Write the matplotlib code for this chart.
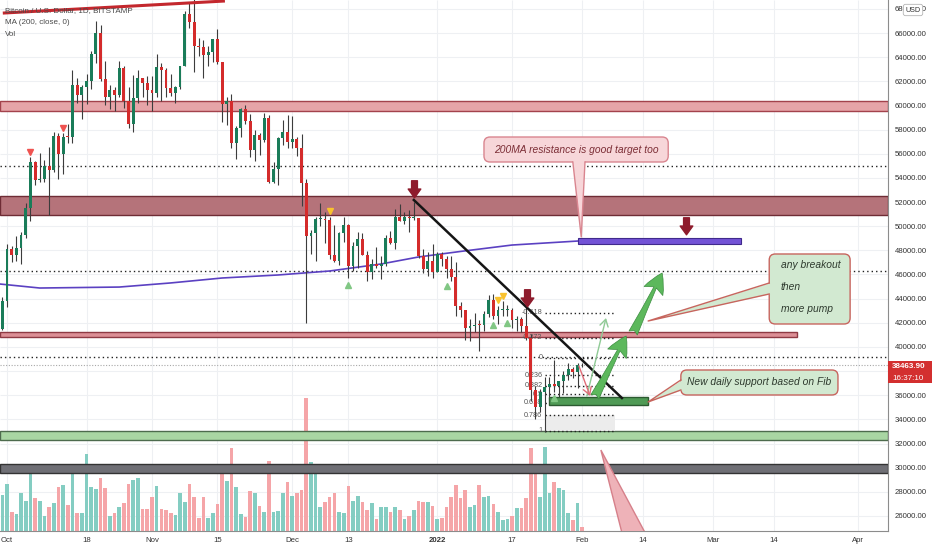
import numpy as np
import pandas as pd
import matplotlib
matplotlib.use('Agg')
import matplotlib.pyplot as plt
from matplotlib.patches import Rectangle, FancyBboxPatch, Polygon
from matplotlib.path import Path
from matplotlib.ticker import FuncFormatter

plt.rcParams['font.family'] = ['Liberation Sans', 'DejaVu Sans']

# BTC / USD daily candles (Bitstamp), 30 Sep 2021 - 1 Feb 2022
dates = pd.date_range('2021-09-30', '2022-02-01', freq='D')
opens = [41520,
         43790, 48140, 47650, 48230, 49250, 51500, 55340, 53800, 53950, 54960, 54690, 57480, 56010, 57370, 57360, 61670,
         60880, 61530, 62010, 64280, 66000, 62200, 60700, 61300, 60860, 63080, 60330, 58450, 60600, 62250, 61860,
         61300, 61000, 63200, 62950, 61450, 61000, 61500, 63300, 67550, 66950, 64900, 64800, 64150, 64400, 65500,
         63600, 60100, 60350, 56900, 58100, 59700, 58700, 56300, 57550, 57150, 58960, 53700, 54750, 57300, 57800,
         56950, 57200, 56500, 53600, 49200, 49400, 50600, 50600, 50500, 47650, 47150, 49400, 50100, 46700, 48350,
         48900, 47650, 46200, 46850, 46700, 46900, 49000, 48600, 50800, 50400, 50800, 50700, 50700, 47550, 46450, 47100,
         46200, 47700, 47300, 46450, 45800, 43400, 43100, 41550, 41700, 41850, 41800, 42700, 43900, 42550, 43100,
         43100, 43100, 42200, 42350, 41700, 40700, 36450, 35050, 36250, 36650, 36950, 36800, 37150, 37700, 38150, 37900,
         38480]
highs = [44100,
         48500, 48350, 49200, 49500, 51900, 55750, 55400, 56100, 55500, 56600, 57800, 57680, 57700, 58500, 62900, 62300,
         61700, 62600, 64500, 67000, 66700, 63700, 61700, 61500, 63700, 63300, 61500, 62500, 62950, 62300, 62400,
         62400, 64300, 63500, 63100, 62600, 61600, 63300, 67800, 68500, 69000, 65600, 65400, 64900, 65500, 66300,
         63600, 60700, 60950, 58300, 59800, 60000, 59300, 58000, 57750, 59400, 59200, 55300, 57400, 58800, 59200,
         59100, 57400, 57600, 53900, 49700, 50800, 51900, 51200, 50800, 50100, 49500, 50800, 50200, 48700, 49500,
         49400, 47950, 47300, 48300, 47500, 49300, 49600, 51400, 51800, 51200, 51300, 52000, 50700, 48100, 47900, 48500,
         47900, 47900, 47500, 47500, 47000, 43700, 43100, 42300, 42800, 42200, 43000, 44300, 44400, 43400, 43800,
         43500, 43200, 42600, 42500, 43500, 41100, 36800, 36500, 37500, 37500, 38900, 37200, 38000, 38700, 38300, 38700,
         38700]
lows = [41400,
        43300, 47000, 47100, 46900, 49050, 50400, 53400, 53700, 53700, 50900, 54450, 53900, 54300, 56900, 56900, 60200,
        58900, 60100, 61400, 63500, 62000, 60000, 59700, 59500, 60700, 59800, 58100, 57800, 60200, 60700, 60000,
        59500, 60700, 60400, 60700, 60800, 60200, 61400, 63300, 66400, 62800, 64100, 62300, 63300, 63600, 63400,
        58600, 58400, 56500, 55600, 57400, 58500, 55700, 55400, 55900, 57000, 53600, 53600, 53400, 56700, 56500,
        56500, 55800, 51700, 42000, 47700, 47100, 50000, 48600, 47300, 47000, 46800, 48700, 45700, 46300, 46500,
        47600, 45500, 45600, 46500, 45600, 46700, 48500, 48100, 50400, 50200, 49500, 50500, 47400, 46100, 45900, 45700,
        46200, 46700, 45700, 45500, 42600, 42500, 40600, 40500, 41200, 39700, 41300, 42500, 42300, 41900, 42600,
        42600, 41600, 41300, 41200, 40600, 35500, 34000, 34600, 32950, 35700, 36300, 35500, 36200, 37300, 37400, 36600,
        38300]
closes = [43790,
          48140, 47650, 48230, 49250, 51500, 55340, 53800, 53950, 54960, 54690, 57480, 56010, 57370, 57360, 61670, 60880,
          61530, 62010, 64280, 66000, 62200, 60700, 61300, 60860, 63080, 60330, 58450, 60600, 62250, 61860, 61300,
          61000, 63200, 62950, 61450, 61000, 61500, 63300, 67550, 66950, 64900, 64800, 64150, 64400, 65500, 63600,
          60100, 60350, 56900, 58100, 59700, 58700, 56300, 57550, 57150, 58960, 53700, 54750, 57300, 57800, 56950,
          57200, 56500, 53600, 49200, 49400, 50600, 50600, 50500, 47650, 47150, 49400, 50100, 46700, 48350, 48900,
          47650, 46200, 46850, 46700, 46900, 49000, 48600, 50800, 50400, 50800, 50700, 50700, 47550, 46450, 47100, 46200,
          47700, 47300, 46450, 45800, 43400, 43100, 41550, 41700, 41850, 41800, 42700, 43900, 42550, 43100, 43100,
          43100, 42200, 42350, 41700, 40700, 36450, 35050, 36250, 36650, 36950, 36800, 37150, 37700, 38150, 37900, 38480,
          38463.90]
volumes = [3600, 4700, 1900, 1700, 3800, 3000, 5900, 3300, 3000, 1500,
           2400, 2800, 4400, 4600, 2600, 5700, 1800, 1800, 7700, 4400,
           4200, 5300, 4300, 1500, 1800, 2400, 2800, 4700, 5100, 5300,
           2200, 2200, 3400, 4500, 2200, 2100, 1800, 1600, 3800, 2900,
           4700, 3400, 1300, 3400, 1300, 1800, 2700, 6300, 5000, 8300,
           4400, 1700, 1400, 4000, 3800, 2500, 1900, 7000, 1900, 2000,
           3800, 4900, 3500, 3800, 4100, 13300, 6900, 6200, 2400, 2900,
           3400, 3800, 1900, 1800, 4500, 3000, 3500, 2900, 2100, 2800,
           1200, 2400, 2400, 1900, 2400, 2100, 1200, 1500, 2100, 3000,
           2900, 2900, 2500, 1200, 1300, 2400, 3400, 4600, 3300, 4100,
           2400, 2600, 4600, 3400, 3500, 2700, 1900, 1100, 1200, 1500,
           2300, 2300, 3300, 8300, 6100, 3400, 8400, 3800, 4900, 4300,
           4100, 1800, 1100, 2800, 430]

# MA(200) sampled along the purple curve
ma_dates = ['2021-09-29', '2021-10-08', '2021-10-25', '2021-11-05', '2021-11-16', '2021-11-28',
            '2021-12-09', '2021-12-20', '2021-12-28', '2022-01-06', '2022-01-17', '2022-01-31']
ma_values = [45230, 44880, 44960, 45300, 45710, 45960, 46290, 46870, 47450, 47910, 48440, 48770]

tick_dates = ['2021-10-01', '2021-10-18', '2021-11-01', '2021-11-15', '2021-12-01', '2021-12-13', '2022-01-01',
              '2022-01-17', '2022-02-01', '2022-02-14', '2022-03-01', '2022-03-14', '2022-04-01']
tick_labels = ['Oct', '18', 'Nov', '15', 'Dec', '13', '2022', '17', 'Feb', '14', 'Mar', '14', 'Apr']
price_ticks = [26000, 28000, 30000, 32000, 34000, 36000, 40000, 42000, 44000, 46000, 48000, 50000,
               52000, 54000, 56000, 58000, 60000, 62000, 64000, 66000, 68000]

# drawings (x in days from 1 Oct 2021, y in USD)
zones_full = [(59550, 60330, '#e6a4a8', '#a3424c'),
              (50930, 52520, '#b5737a', '#6e2c35'),
              (32300, 33040, '#a9d6a3', '#4d6b4d'),
              (29560, 30310, '#6f6f75', '#333333')]
zone_41k = (40830, 41240, 168.9)
dotted_levels = [54950, 46250, 39200]
fib_levels = [-0.618, -0.272, 0, 0.236, 0.382, 0.5, 0.618, 0.786, 1]
fib_names = ['-0.618', '-0.272', '0', '0.236', '0.382', '0.5', '0.618', '0.786', '1']
fib_top, fib_low, fib_x = 39100, 33050, (115, 130)
top_trend = ([-0.9, 46.6], [67650, 68650])
down_trend = ([87.0, 131.5], [52170, 35770])
drop_arrows = ([87.0, 111.2, 145.1], [53000, 43970, 49930])
red_tri = ([5, 12], [56170, 58160])
yellow_tri = ([69, 105, 106], [51260, 43890, 44250])
green_tri = ([73, 94, 104, 107, 117], [45130, 45050, 41820, 42010, 35750])

base = pd.Timestamp('2021-10-01')
x = np.asarray((dates - base).days, dtype=float)
o, h, l, c = map(np.array, (opens, highs, lows, closes))
up = c >= o

W, H = 932, 550
XL, YL = (-1.5, 188.4), (24757, 68733)
fig = plt.figure(figsize=(W / 100, H / 100), dpi=100)
rect = [0, 19 / H, 888 / W, 531 / H]
ax_v = fig.add_axes(rect)
ax = fig.add_axes(rect)
ax.patch.set_visible(False)
ax.set_xlim(*XL)
ax.set_ylim(*YL)
ax_v.set_xlim(*XL)
ax_v.set_ylim(0, 53100)
aspect = (888 / (XL[1] - XL[0])) / (531 / (YL[1] - YL[0]))

# grid behind the volume
tick_x = [(pd.Timestamp(t) - base).days for t in tick_dates]
yt = np.arange(24000, 68001, 2000)
ax_v.hlines(yt, XL[0], XL[1], color='#eef0f3', lw=0.8, transform=ax.transData, zorder=0)
ax_v.vlines(tick_x, YL[0], YL[1], color='#eef0f3', lw=0.8, transform=ax.transData, zorder=0)
ax_v.bar(x, volumes, width=0.78, color=np.where(up, '#84cdc2', '#f5a5a8'), zorder=2)
ax_v.axis('off')

# zones
for lo, hi, fc, ec in zones_full:
    ax.axhspan(lo, hi, fc=fc, ec=ec, lw=1.0, zorder=1)
ax.add_patch(Rectangle((XL[0], zone_41k[0]), zone_41k[2] - XL[0], zone_41k[1] - zone_41k[0],
                       fc='#dc8f96', ec='#8e3a44', lw=1.0, zorder=1))
for p in dotted_levels:
    ax.axhline(p, color='#222222', lw=1.0, ls=(0, (1, 2.2)), zorder=1.5)
ax.axhline(c[-1], color='#a8a8a8', lw=0.8, ls=(0, (1, 1.5)), zorder=1.5)

# fib retracement
fib_p = [fib_top - lv * (fib_top - fib_low) for lv in fib_levels]
ax.add_patch(Rectangle((fib_x[0], fib_low), fib_x[1] - fib_x[0], fib_p[7] - fib_low,
                       fc='#ececec', ec='none', zorder=1.2))
for p, name in zip(fib_p, fib_names):
    ax.hlines(p, fib_x[0], fib_x[1], color='#222222', lw=1.0, ls=(0, (1, 2)), zorder=3)
    ax.text(fib_x[0] - 0.5, p, name, ha='right', va='center', fontsize=5.2, color='#555555', zorder=3)

# MA 200
ma_x = [(pd.Timestamp(t) - base).days for t in ma_dates]
ax.plot(ma_x, ma_values, color='#5b41c2', lw=1.2, zorder=2)

# candles
ax.vlines(x, l, h, color='#3c3c3c', lw=0.8, zorder=4)
ax.bar(x, np.maximum(np.abs(c - o), 80), bottom=np.minimum(o, c), width=0.62,
       color=np.where(up, '#1a7c59', '#d42b2b'), lw=0, zorder=5)

# trend lines
ax.plot(*top_trend, color='#c3272d', lw=2.2, zorder=6, solid_capstyle='butt')
ax.plot(*down_trend, color='#151515', lw=1.8, zorder=7)

# target boxes
ax.add_patch(Rectangle((115.9, 35190), 21.2, 690, fc='#4f9a55', ec='#2c5a31', lw=1.0, zorder=6))
ax.add_patch(Rectangle((122.1, 48526), 34.9, 497, fc='#7353d6', ec='#402a8c', lw=0.8, zorder=6))

# markers
arrow_path = Path([(-0.3, 1), (0.3, 1), (0.3, 0.15), (0.65, 0.15), (0, -0.75), (-0.65, 0.15), (-0.3, 0.15), (-0.3, 1)],
                  [Path.MOVETO] + [Path.LINETO] * 6 + [Path.CLOSEPOLY])
ax.plot(*drop_arrows, ls='none', marker=arrow_path, ms=14, color='#8e1b2c', zorder=9)
ax.plot(*red_tri, ls='none', marker='v', ms=4.5, color='#ef5350', zorder=6)
ax.plot(*yellow_tri, ls='none', marker='v', ms=4.5, color='#f9c22e', zorder=6)
ax.plot(*green_tri, ls='none', marker='^', ms=4.5, color='#81c784', zorder=6)

# arrows
big = dict(arrowstyle='fancy,head_length=1.2,head_width=1.25,tail_width=0.55', fc='#5cb85c', ec='#3c8d40',
           lw=0.5, mutation_scale=12, shrinkA=0, shrinkB=0)
ax.annotate('', xy=(132.4, 40907), xytext=(125.7, 35855), arrowprops=big, zorder=7)
ax.annotate('', xy=(140.1, 46124), xytext=(133.9, 41155), arrowprops=big, zorder=7)
ax.annotate('', xy=(128.1, 42397), xytext=(124.0, 35938),
            arrowprops=dict(arrowstyle='->,head_length=0.5,head_width=0.3', color='#8fca95', lw=1.0,
                            shrinkA=0, shrinkB=0), zorder=7)
ax.annotate('', xy=(124.7, 35938), xytext=(122.3, 38422),
            arrowprops=dict(arrowstyle='->,head_length=0.5,head_width=0.3', color='#e06c78', lw=1.0,
                            shrinkA=0, shrinkB=0), zorder=7)


def callout(x0, y0, x1, y1, b1, b2, tip, inset, fc, ec):
    ax.add_patch(FancyBboxPatch((x0, y0), x1 - x0, y1 - y0, boxstyle='round,pad=0,rounding_size=1.3',
                                mutation_aspect=aspect, fc=fc, ec=ec, lw=1.0, zorder=8))
    pts = [(b1[0] + inset[0], b1[1] + inset[1]), tip, (b2[0] + inset[0], b2[1] + inset[1])]
    ax.add_patch(Polygon(pts, closed=True, fc=fc, ec='none', zorder=8.5))
    ax.plot([b1[0], tip[0], b2[0]], [b1[1], tip[1], b2[1]], color=ec, lw=1.0, zorder=8.6)


callout(102.0, 55317, 141.4, 57387, (121.0, 55317), (123.6, 55317), (122.8, 49106), (0, 150), '#f7d6d9', '#d9858f')
callout(163.0, 41901, 180.3, 47698, (163.0, 45296), (163.0, 44385), (137.1, 42149), (0.4, 0), '#d2e9d1', '#c7655e')
callout(144.1, 36021, 177.7, 38091, (144.1, 37263), (144.1, 36435), (137.1, 35441), (0.4, 0), '#d2e9d1', '#c7655e')
ax.add_patch(Polygon([(127.0, 31466), (131.9, 24000), (137.3, 24000)], closed=True,
                     fc='#eeb2b8', ec='#d6808a', lw=1.0, zorder=8))

txt = dict(fontsize=7.4, style='italic', va='center', zorder=9)
ax.text(121.7, 56310, '200MA resistance is good target too', ha='center', color='#7b2d35', **txt)
for p, line in zip([46787, 44965, 43143], ['any breakout', 'then', 'more pump']):
    ax.text(165.5, p, line, ha='left', color='#2e3a2e', **txt)
ax.text(160.8, 37097, 'New daily support based on Fib', ha='center', color='#2e3a2e', **txt)

# axes styling
ax.yaxis.tick_right()
ax.set_yticks(price_ticks)
ax.yaxis.set_major_formatter(FuncFormatter(lambda v, _: f'{v:.2f}'))
ax.tick_params(axis='y', length=0, pad=5, labelsize=5.6, labelcolor='#333333')
ax.set_xticks(tick_x)
ax.set_xticklabels(tick_labels)
ax.tick_params(axis='x', length=0, pad=4, labelsize=5.6, labelcolor='#333333')
for lab in ax.get_xticklabels():
    if lab.get_text() == '2022':
        lab.set_fontweight('bold')
for s in ('top', 'left'):
    ax.spines[s].set_visible(False)
for s in ('right', 'bottom'):
    ax.spines[s].set_color('#8c8c8c')
    ax.spines[s].set_linewidth(0.8)

# legend and price label
for i, t in enumerate(['Bitcoin / U.S. Dollar, 1D, BITSTAMP', 'MA (200, close, 0)', 'Vol']):
    fig.text(5 / W, 1 - (11 + 12 * i) / H, t, fontsize=5.8, color='#4a4a4a', va='center')
fig.add_artist(Rectangle((888 / W, 1 - 383 / H), 44 / W, 22 / H, transform=fig.transFigure,
                         fc='#d32f2f', ec='none', zorder=5))
fig.text(892 / W, 1 - 367 / H, f'{c[-1]:.2f}', color='white', fontsize=5.8, va='center', weight='bold', zorder=6)
fig.text(892 / W, 1 - 378 / H, '16:37:10', color='white', fontsize=5.8, va='center', zorder=6)
fig.text(913 / W, 1 - 10 / H, 'USD', fontsize=5.2, ha='center', va='center', color='#333333', zorder=6,
         bbox=dict(boxstyle='round,pad=0.3', fc='white', ec='#b5b5b5', lw=0.6))

fig.savefig('out.png', dpi=100)
